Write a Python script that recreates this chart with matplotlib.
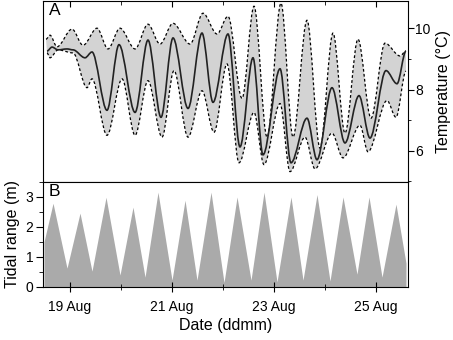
import numpy as np
import matplotlib
matplotlib.use('Agg')
import matplotlib.pyplot as plt
from matplotlib.path import Path
from matplotlib.patches import PathPatch
from matplotlib.ticker import MultipleLocator

plt.rcParams['font.family'] = ['Liberation Sans', 'DejaVu Sans']

# Temperature (day of August, degC), read at the turning points of each curve
mean_day = [18.549, 18.647, 18.765, 18.941, 19.059, 19.294, 19.431, 19.725, 19.961,
            20.275, 20.529, 20.784, 21.020, 21.314, 21.588, 21.804, 22.098, 22.333,
            22.588, 22.784, 23.118, 23.333, 23.647, 23.843, 24.137, 24.392, 24.667,
            24.882, 25.196, 25.412, 25.588]
mean_temp = [9.26, 9.39, 9.30, 9.33, 9.30, 9.04, 9.23, 7.32, 9.47,
             7.25, 9.62, 7.09, 9.69, 7.38, 9.85, 7.58, 9.82, 6.12,
             9.04, 5.86, 8.68, 5.60, 7.06, 5.70, 8.06, 6.25, 7.80,
             6.41, 8.62, 8.19, 9.26]

upper_day = [18.529, 18.608, 18.745, 19.039, 19.255, 19.529, 19.745, 19.980, 20.275,
             20.529, 20.765, 21.020, 21.353, 21.608, 21.882, 22.098, 22.373, 22.608,
             22.863, 23.137, 23.373, 23.647, 23.902, 24.157, 24.392, 24.647, 24.902,
             25.176, 25.471, 25.588]
upper_temp = [9.65, 9.78, 9.40, 9.98, 9.45, 10.01, 9.33, 10.01, 9.33,
              10.14, 9.49, 10.17, 9.49, 10.50, 9.82, 10.40, 7.71, 10.73,
              6.44, 10.83, 6.44, 10.27, 6.08, 9.85, 6.57, 9.65, 7.06,
              9.52, 9.10, 9.26]

lower_day = [18.549, 18.608, 18.765, 19.059, 19.333, 19.431, 19.725, 20.020, 20.275,
             20.529, 20.804, 21.039, 21.314, 21.588, 21.824, 22.078, 22.314, 22.608,
             22.804, 23.118, 23.314, 23.608, 23.804, 24.137, 24.353, 24.686, 24.843,
             25.216, 25.392, 25.588]
lower_temp = [9.20, 9.04, 9.30, 9.20, 8.06, 8.35, 6.50, 8.35, 6.50,
              8.29, 6.44, 8.62, 6.44, 7.96, 6.60, 8.84, 5.60, 7.25,
              5.54, 7.54, 5.31, 6.44, 5.40, 6.57, 5.76, 6.83, 5.96,
              7.64, 7.09, 8.60]

# Tidal range (m)
tide_day = [18.490, 18.667, 18.941, 19.196, 19.431, 19.706, 19.980, 20.235, 20.471,
            20.725, 21.000, 21.255, 21.490, 21.765, 22.020, 22.275, 22.549, 22.804,
            23.059, 23.333, 23.569, 23.843, 24.098, 24.353, 24.627, 24.863, 25.118,
            25.392, 25.588]
tide_range = [1.50, 2.79, 0.62, 2.46, 0.52, 2.99, 0.39, 2.66, 0.32,
              3.16, 0.22, 2.89, 0.22, 3.16, 0.14, 3.00, 0.22, 3.16,
              0.16, 3.00, 0.22, 3.08, 0.19, 3.00, 0.42, 3.00, 0.32,
              2.76, 0.79]

tick_days = [19, 21, 23, 25]
tick_labels = ['19 Aug', '21 Aug', '23 Aug', '25 Aug']


# smooth curve through the turning points (flat tangent at each one)
def smooth_path(x, y):
    verts = [(x[0], y[0])]
    codes = [Path.MOVETO]
    for i in range(len(x) - 1):
        d = (x[i + 1] - x[i]) / 3.0
        verts += [(x[i] + d, y[i]), (x[i + 1] - d, y[i + 1]), (x[i + 1], y[i + 1])]
        codes += [Path.CURVE4] * 3
    return verts, codes


fig = plt.figure(figsize=(4.53, 3.4), dpi=100)
ax1 = fig.add_axes([0.0949, 0.4647, 0.8057, 0.5323])
ax2 = fig.add_axes([0.0949, 0.1568, 0.8057, 0.3079])

# panel A: envelope
vu, cu = smooth_path(upper_day, upper_temp)
vl, cl = smooth_path(lower_day[::-1], lower_temp[::-1])
cl[0] = Path.LINETO
band = Path(vu + vl + [vu[0]], cu + cl + [Path.CLOSEPOLY])
ax1.add_patch(PathPatch(band, facecolor='#d3d3d3', edgecolor='none'))
for xs, ys in [(upper_day, upper_temp), (lower_day, lower_temp)]:
    v, c = smooth_path(xs, ys)
    ax1.add_patch(PathPatch(Path(v, c), facecolor='none', edgecolor='black',
                            lw=0.9, linestyle=(0, (2.2, 1.8))))
v, c = smooth_path(mean_day, mean_temp)
ax1.add_patch(PathPatch(Path(v, c), facecolor='none', edgecolor='#222222', lw=1.2))

xmin, xmax = 18.47, 25.627
ax1.set_xlim(xmin, xmax)
ax1.set_ylim(4.97, 10.9)
ax1.yaxis.tick_right()
ax1.yaxis.set_label_position('right')
ax1.set_yticks([6, 8, 10])
ax1.yaxis.set_minor_locator(MultipleLocator(1))
ax1.tick_params(axis='y', which='major', direction='out', length=4, pad=1, labelsize=10)
ax1.tick_params(axis='y', which='minor', direction='out', length=2.5)
ax1.xaxis.tick_top()
ax1.set_xticks(tick_days)
ax1.set_xticks([20, 22, 24], minor=True)
ax1.tick_params(axis='x', which='major', direction='in', length=4.5, labeltop=False)
ax1.tick_params(axis='x', which='minor', direction='in', length=3, labeltop=False)
ax1.set_ylabel('Temperature (°C)', fontsize=11.5)
ax1.text(0.016, 0.988, 'A', transform=ax1.transAxes, ha='left', va='top', fontsize=12.5)

# panel B: tidal range
ax2.fill_between(tide_day, 0, tide_range, color='#aaaaaa', lw=0)
ax2.set_xlim(xmin, xmax)
ax2.set_ylim(0, 3.5)
ax2.set_yticks([0, 1, 2, 3])
ax2.yaxis.set_minor_locator(MultipleLocator(0.5))
ax2.tick_params(axis='y', which='major', direction='out', length=5, pad=2, labelsize=10)
ax2.tick_params(axis='y', which='minor', direction='out', length=3)
ax2.set_xticks(tick_days, tick_labels)
ax2.set_xticks([20, 22, 24], minor=True)
ax2.tick_params(axis='x', which='major', direction='inout', length=6.5, pad=6, labelsize=10)
ax2.tick_params(axis='x', which='minor', direction='inout', length=4.5)
ax2.set_ylabel('Tidal range (m)', fontsize=11.5)
ax2.set_xlabel('Date (ddmm)', fontsize=11.5, labelpad=3)
ax2.text(0.016, 0.98, 'B', transform=ax2.transAxes, ha='left', va='top', fontsize=12.5)

fig.savefig('out.png', dpi=100)
